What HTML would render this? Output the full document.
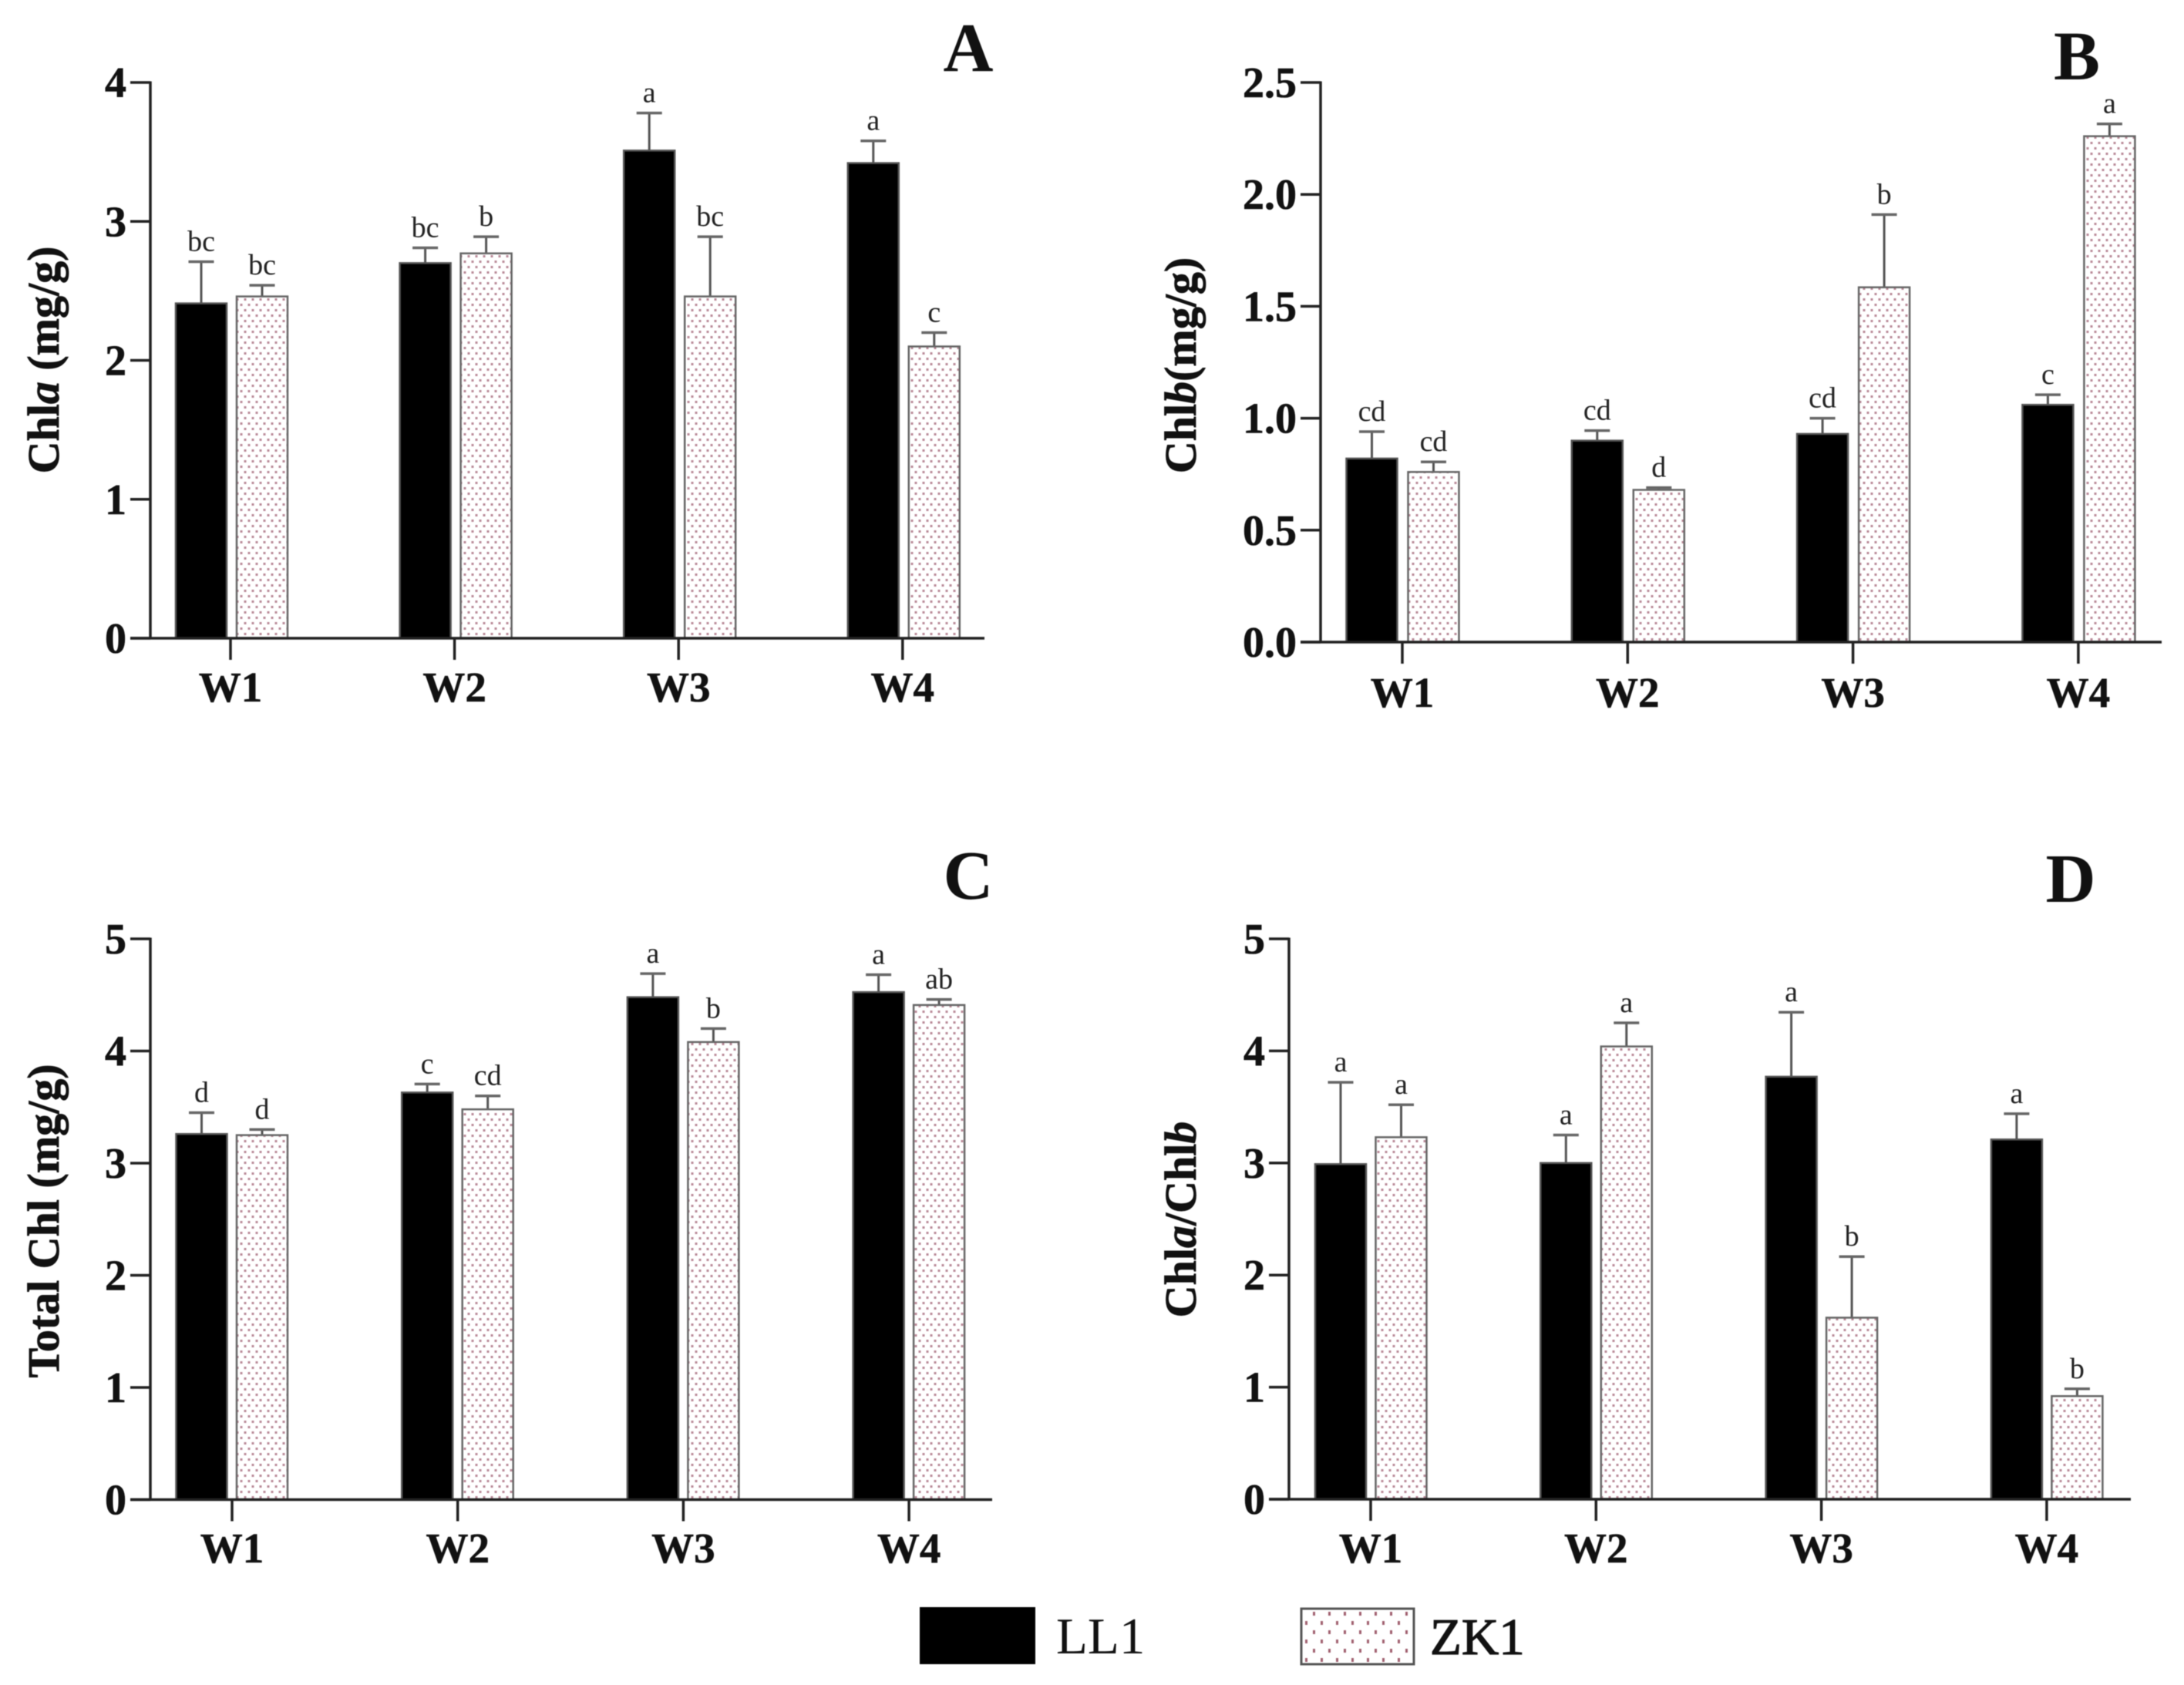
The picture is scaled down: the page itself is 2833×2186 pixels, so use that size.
<!DOCTYPE html>
<html lang="en">
<head>
<meta charset="utf-8">
<title>Chlorophyll content by week</title>
<style>
html,body{margin:0;padding:0;background:#fff;}
#figure{display:block;width:2833px;height:2186px;font-family:"Liberation Serif",serif;filter:blur(0.6px);}
.title{font-weight:bold;font-size:58px;fill:#111;stroke:#111;stroke-width:0.8px;}
.letter{font-weight:bold;font-size:90px;fill:#111;text-anchor:middle;}
.legend-text{font-size:67px;fill:#111;}
</style>
</head>
<body>
<svg id="figure" xmlns="http://www.w3.org/2000/svg" width="2833" height="2186" viewBox="0 0 2833 2186">
<defs>
<pattern id="dots" patternUnits="userSpaceOnUse" width="10" height="14">
<rect width="10" height="14" fill="#fff"/>
<rect x="1.5" y="2" width="3" height="3" fill="#b98a98"/>
<rect x="6.5" y="9" width="3" height="3" fill="#b98a98"/>
</pattern>
<pattern id="dots-legend" patternUnits="userSpaceOnUse" width="20" height="24">
<rect width="20" height="24" fill="#fff"/>
<rect x="3" y="3" width="3" height="5" fill="#a0606f"/>
<rect x="13" y="15" width="3" height="5" fill="#a0606f"/>
</pattern>
</defs>
<rect width="2833" height="2186" fill="#fff"/>

<g id="panel-a"></g>
<g id="panel-b"></g>
<g id="panel-c"></g>
<g id="panel-d"></g>

<text class="title" transform="translate(76,467) rotate(-90)" text-anchor="middle">Chl<tspan font-style="italic">a</tspan> (mg/g)</text>
<text class="title" transform="translate(1551,474) rotate(-90)" text-anchor="middle">Chl<tspan font-style="italic">b</tspan>(mg/g)</text>
<text class="title" transform="translate(76,1584) rotate(-90)" text-anchor="middle">Total Chl (mg/g)</text>
<text class="title" transform="translate(1551,1582) rotate(-90)" text-anchor="middle">Chl<tspan font-style="italic">a</tspan>/Chl<tspan font-style="italic">b</tspan></text>

<text class="letter" x="1256" y="92">A</text>
<text class="letter" x="2694" y="103">B</text>
<text class="letter" x="1256" y="1166">C</text>
<text class="letter" x="2686" y="1170">D</text>

<g>
<rect x="1193" y="2085" width="150" height="74" fill="#000"/>
<text class="legend-text" x="1370" y="2145">LL1</text>
<rect x="1688" y="2087" width="146" height="72" fill="url(#dots-legend)" stroke="#555" stroke-width="3"/>
<text class="legend-text" x="1855" y="2146" stroke="#111" stroke-width="1.2">ZK1</text>
</g>
</svg>

<script>
// ---- data ----
const categories = ["W1", "W2", "W3", "W4"];

const ticksA = ["0", "1", "2", "3", "4"];
const ticksB = ["0.0", "0.5", "1.0", "1.5", "2.0", "2.5"];
const ticksC = ["0", "1", "2", "3", "4", "5"];
const ticksD = ["0", "1", "2", "3", "4", "5"];

const chlaLL1 = [2.41, 2.70, 3.51, 3.42];
const chlaLL1Err = [2.71, 2.81, 3.78, 3.58];
const chlaZK1 = [2.46, 2.77, 2.46, 2.10];
const chlaZK1Err = [2.54, 2.89, 2.89, 2.20];
const chlaLL1Sig = ["bc", "bc", "a", "a"];
const chlaZK1Sig = ["bc", "b", "bc", "c"];

const chlbLL1 = [0.82, 0.90, 0.93, 1.06];
const chlbLL1Err = [0.94, 0.945, 1.00, 1.105];
const chlbZK1 = [0.76, 0.68, 1.585, 2.26];
const chlbZK1Err = [0.805, 0.69, 1.91, 2.315];
const chlbLL1Sig = ["cd", "cd", "cd", "c"];
const chlbZK1Sig = ["cd", "d", "b", "a"];

const totalLL1 = [3.26, 3.63, 4.48, 4.525];
const totalLL1Err = [3.45, 3.705, 4.69, 4.68];
const totalZK1 = [3.25, 3.48, 4.08, 4.41];
const totalZK1Err = [3.30, 3.60, 4.20, 4.46];
const totalLL1Sig = ["d", "c", "a", "a"];
const totalZK1Sig = ["d", "cd", "b", "ab"];

const ratioLL1 = [2.99, 3.00, 3.77, 3.21];
const ratioLL1Err = [3.72, 3.25, 4.345, 3.44];
const ratioZK1 = [3.23, 4.04, 1.62, 0.92];
const ratioZK1Err = [3.52, 4.25, 2.165, 0.985];
const ratioLL1Sig = ["a", "a", "a", "a"];
const ratioZK1Sig = ["a", "a", "b", "b"];

// ---- drawing ----
const SVGNS = "http://www.w3.org/2000/svg";
const BAR_W = 66;
const CAP_W = 33;

function make(parent, tag, attrs) {
  const el = document.createElementNS(SVGNS, tag);
  for (const k in attrs) el.setAttribute(k, attrs[k]);
  parent.appendChild(el);
  return el;
}

function drawPanel(cfg) {
  const g = document.getElementById(cfg.id);
  const yMax = Number(cfg.ticks[cfg.ticks.length - 1]);
  const yScale = v => cfg.y0 + (cfg.yTop - cfg.y0) * v / yMax;
  const xScale = i => cfg.x0 + i * cfg.step;

  // bars, error bars and significance letters
  const series = [
    { vals: cfg.ll1, err: cfg.ll1Err, sig: cfg.ll1Sig, off: cfg.offLL, fill: "#000", stroke: "#555" },
    { vals: cfg.zk1, err: cfg.zk1Err, sig: cfg.zk1Sig, off: cfg.offZK, fill: "url(#dots)", stroke: "#666" }
  ];
  series.forEach(function (s, si) {
    s.vals.forEach(function (v, i) {
      const cx = xScale(i) + s.off;
      const top = yScale(v);
      const errTop = yScale(s.err[i]);

      const stem = make(g, "line", { x1: cx, x2: cx, y1: top, y2: errTop, stroke: "#555", "stroke-width": 3 });
      
      

      const cap = make(g, "line", { x1: cx - CAP_W / 2, x2: cx + CAP_W / 2, y1: errTop, y2: errTop, stroke: "#666", "stroke-width": 3.5 });
      
      

      const bar = make(g, "rect", { x: cx - BAR_W / 2, y: top, width: BAR_W, height: cfg.y0 - top, fill: s.fill, stroke: s.stroke, "stroke-width": 2.5 });
      
      

      const sig = make(g, "text", { x: cx, y: errTop - 14, "text-anchor": "middle", "font-size": 38, fill: "#222" });
      
      
      sig.textContent = s.sig[i];
    });
  });

  // axes
  const yAxis = make(g, "line", { x1: cfg.axisX, x2: cfg.axisX, y1: cfg.yTop - 1.5, y2: cfg.y0, stroke: "#222", "stroke-width": 3.5 });
  
  

  const xAxis = make(g, "line", { x1: cfg.axisX - 26, x2: cfg.axisEnd, y1: cfg.y0, y2: cfg.y0, stroke: "#222", "stroke-width": 3.5 });
  
  

  cfg.ticks.forEach(function (label) {
    const ty = yScale(Number(label));
    const tick = make(g, "line", { x1: cfg.axisX - 26, x2: cfg.axisX, y1: ty, y2: ty, stroke: "#222", "stroke-width": 3.5 });
    
    

    const t = make(g, "text", { x: cfg.axisX - 31, y: ty + 19, "text-anchor": "end", "font-size": 56, "font-weight": "bold", fill: "#111", stroke: "#111", "stroke-width": 0.6 });
    
    
    t.textContent = label;
  });

  categories.forEach(function (label, i) {
    const tx = xScale(i);
    const tick = make(g, "line", { x1: tx, x2: tx, y1: cfg.y0, y2: cfg.y0 + 28, stroke: "#222", "stroke-width": 3.5 });
    
    

    const t = make(g, "text", { x: tx, y: cfg.labelY, "text-anchor": "middle", "font-size": 55, "font-weight": "bold", fill: "#111", stroke: "#111", "stroke-width": 0.6 });
    
    
    t.textContent = label;
  });
}

drawPanel({ id: "panel-a", ticks: ticksA, ll1: chlaLL1, ll1Err: chlaLL1Err, ll1Sig: chlaLL1Sig, zk1: chlaZK1, zk1Err: chlaZK1Err, zk1Sig: chlaZK1Sig,
  axisX: 195, axisEnd: 1277, y0: 828, yTop: 107, x0: 299, step: 290.6, offLL: -38, offZK: 41, labelY: 910 });
drawPanel({ id: "panel-b", ticks: ticksB, ll1: chlbLL1, ll1Err: chlbLL1Err, ll1Sig: chlbLL1Sig, zk1: chlbZK1, zk1Err: chlbZK1Err, zk1Sig: chlbZK1Sig,
  axisX: 1713, axisEnd: 2804, y0: 833, yTop: 107, x0: 1819, step: 292.3, offLL: -39.5, offZK: 40.5, labelY: 917 });
drawPanel({ id: "panel-c", ticks: ticksC, ll1: totalLL1, ll1Err: totalLL1Err, ll1Sig: totalLL1Sig, zk1: totalZK1, zk1Err: totalZK1Err, zk1Sig: totalZK1Sig,
  axisX: 195, axisEnd: 1287, y0: 1945.5, yTop: 1218, x0: 301, step: 292.7, offLL: -39.5, offZK: 39, labelY: 2027 });
drawPanel({ id: "panel-d", ticks: ticksD, ll1: ratioLL1, ll1Err: ratioLL1Err, ll1Sig: ratioLL1Sig, zk1: ratioZK1, zk1Err: ratioZK1Err, zk1Sig: ratioZK1Sig,
  axisX: 1672, axisEnd: 2764, y0: 1945, yTop: 1218, x0: 1778, step: 292.3, offLL: -39, offZK: 39.5, labelY: 2027 });
</script>
</body>
</html>
